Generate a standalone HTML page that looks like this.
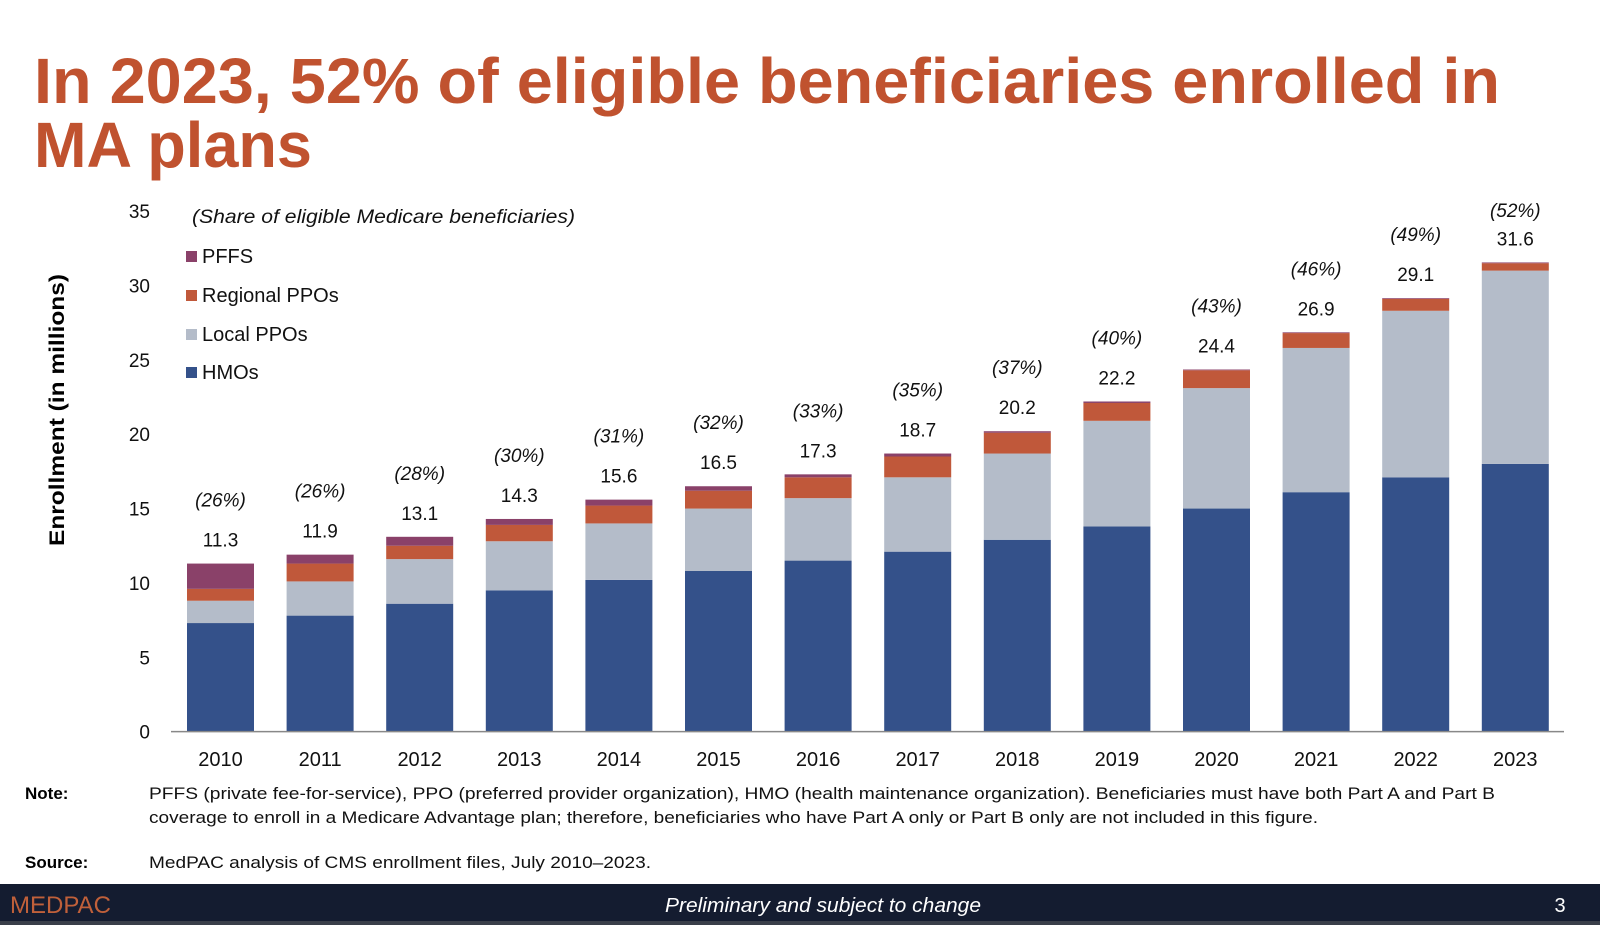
<!DOCTYPE html>
<html><head><meta charset="utf-8"><style>
body{margin:0;width:1600px;height:925px;overflow:hidden;background:#fff;font-family:"Liberation Sans",sans-serif}
svg{display:block}
</style></head><body>
<svg id="chart" width="1600" height="925" viewBox="0 0 1600 925" xmlns="http://www.w3.org/2000/svg">
<text x="34" y="103" font-size="64" font-weight="bold" fill="#c0522f" textLength="1466" lengthAdjust="spacingAndGlyphs">In 2023, 52% of eligible beneficiaries enrolled in</text>
<text x="34" y="167" font-size="64" font-weight="bold" fill="#c0522f" textLength="278" lengthAdjust="spacingAndGlyphs">MA plans</text>
<text x="192" y="223" font-size="19" font-style="italic" fill="#111" textLength="383" lengthAdjust="spacingAndGlyphs">(Share of eligible Medicare beneficiaries)</text>
<text transform="translate(64,410) rotate(-90)" text-anchor="middle" font-size="21" font-weight="bold" fill="#000" textLength="272" lengthAdjust="spacingAndGlyphs">Enrollment (in millions)</text>
<g id="legend"></g>
<g id="yaxis"></g>
<g id="bars"></g>
<line x1="171" y1="731.6" x2="1564" y2="731.6" stroke="#888" stroke-width="1.5"/>
<g id="xaxis"></g>
<text x="25" y="799" font-size="17" font-weight="bold" fill="#000">Note:</text>
<text x="149" y="799" font-size="17" fill="#111" textLength="1346" lengthAdjust="spacingAndGlyphs">PFFS (private fee-for-service), PPO (preferred provider organization), HMO (health maintenance organization). Beneficiaries must have both Part A and Part B</text>
<text x="149" y="823" font-size="17" fill="#111" textLength="1169" lengthAdjust="spacingAndGlyphs">coverage to enroll in a Medicare Advantage plan; therefore, beneficiaries who have Part A only or Part B only are not included in this figure.</text>
<text x="25" y="868" font-size="17" font-weight="bold" fill="#000">Source:</text>
<text x="149" y="868" font-size="17" fill="#111" textLength="502" lengthAdjust="spacingAndGlyphs">MedPAC analysis of CMS enrollment files, July 2010–2023.</text>
<rect x="0" y="884" width="1600" height="41" fill="#141c30"/>
<rect x="0" y="921" width="1600" height="4" fill="#3a3f4a"/>
<text x="10" y="913" font-size="24" fill="#c0603a">MEDPAC</text>
<text x="823" y="912" text-anchor="middle" font-size="20" font-style="italic" fill="#fff" textLength="316" lengthAdjust="spacingAndGlyphs">Preliminary and subject to change</text>
<text x="1560" y="912" text-anchor="middle" font-size="20" fill="#fff">3</text>
</svg>
<script>
const years=["2010","2011","2012","2013","2014","2015","2016","2017","2018","2019","2020","2021","2022","2023"];
const hmo=[7.3,7.8,8.6,9.5,10.2,10.8,11.5,12.1,12.9,13.8,15.0,16.1,17.1,18.0];
const localPpo=[1.5,2.3,3.0,3.3,3.8,4.2,4.2,5.0,5.8,7.1,8.1,9.7,11.2,13.0];
const regionalPpo=[0.8,1.2,0.9,1.1,1.2,1.2,1.4,1.4,1.4,1.2,1.2,1.0,0.8,0.5];
const pffs=[1.7,0.6,0.6,0.4,0.4,0.3,0.2,0.2,0.1,0.1,0.05,0.05,0.05,0.05];
const totals=["11.3","11.9","13.1","14.3","15.6","16.5","17.3","18.7","20.2","22.2","24.4","26.9","29.1","31.6"];
const shares=["(26%)","(26%)","(28%)","(30%)","(31%)","(32%)","(33%)","(35%)","(37%)","(40%)","(43%)","(46%)","(49%)","(52%)"];
const yTicks=[0,5,10,15,20,25,30,35];

const NS="http://www.w3.org/2000/svg";
const base=731.6, unit=14.87, x0=187, step=99.6, bw=67;
const y=v=>base-v*unit;
const xb=i=>x0+i*step;
function mk(tag,attrs,parent,txt){const e=document.createElementNS(NS,tag);for(const k in attrs)e.setAttribute(k,attrs[k]);if(txt!==undefined)e.textContent=txt;parent.appendChild(e);return e;}

const yg=document.getElementById('yaxis');
yTicks.forEach(t=>{
  const e=mk('text',{x:150,y:y(t)+7,'text-anchor':'end','font-size':19,fill:'#111'},yg,String(t));
  
  
});

const series=[{n:'hmo',d:hmo,c:'#34518a'},{n:'local-ppo',d:localPpo,c:'#b4bcc9'},{n:'regional-ppo',d:regionalPpo,c:'#c0583a'},{n:'pffs',d:pffs,c:'#8a4169'}];
const bg=document.getElementById('bars');
const xg=document.getElementById('xaxis');
years.forEach((yr,i)=>{
  let cum=0;
  series.forEach(s=>{
    const v=s.d[i];
    const r=mk('rect',{x:xb(i),y:y(cum+v),width:bw,height:v*unit,fill:s.c},bg);
    
    
    cum+=v;
  });
  const cx=xb(i)+bw/2, top=y(cum);
  const t=mk('text',{x:cx,y:top-17,'text-anchor':'middle','font-size':19,fill:'#111'},bg,totals[i]);
  
  
  const p=mk('text',{x:cx,y:Math.max(top-57,217),'text-anchor':'middle','font-size':19,'font-style':'italic',fill:'#111'},bg,shares[i]);
  
  
  const xl=mk('text',{x:cx,y:766,'text-anchor':'middle','font-size':20,fill:'#111'},xg,yr);
  
  
});

const lg=document.getElementById('legend');
const leg=[['PFFS','#8a4169',257],['Regional PPOs','#c0583a',296],['Local PPOs','#b4bcc9',335],['HMOs','#34518a',373]];
leg.forEach(l=>{
  const g=mk('g',{},lg);
  
  
  mk('rect',{x:186,y:l[2]-6,width:11,height:11,fill:l[1]},g);
  mk('text',{x:202,y:l[2]+6,'font-size':20,fill:'#111'},g,l[0]);
});
</script>
</body></html>
